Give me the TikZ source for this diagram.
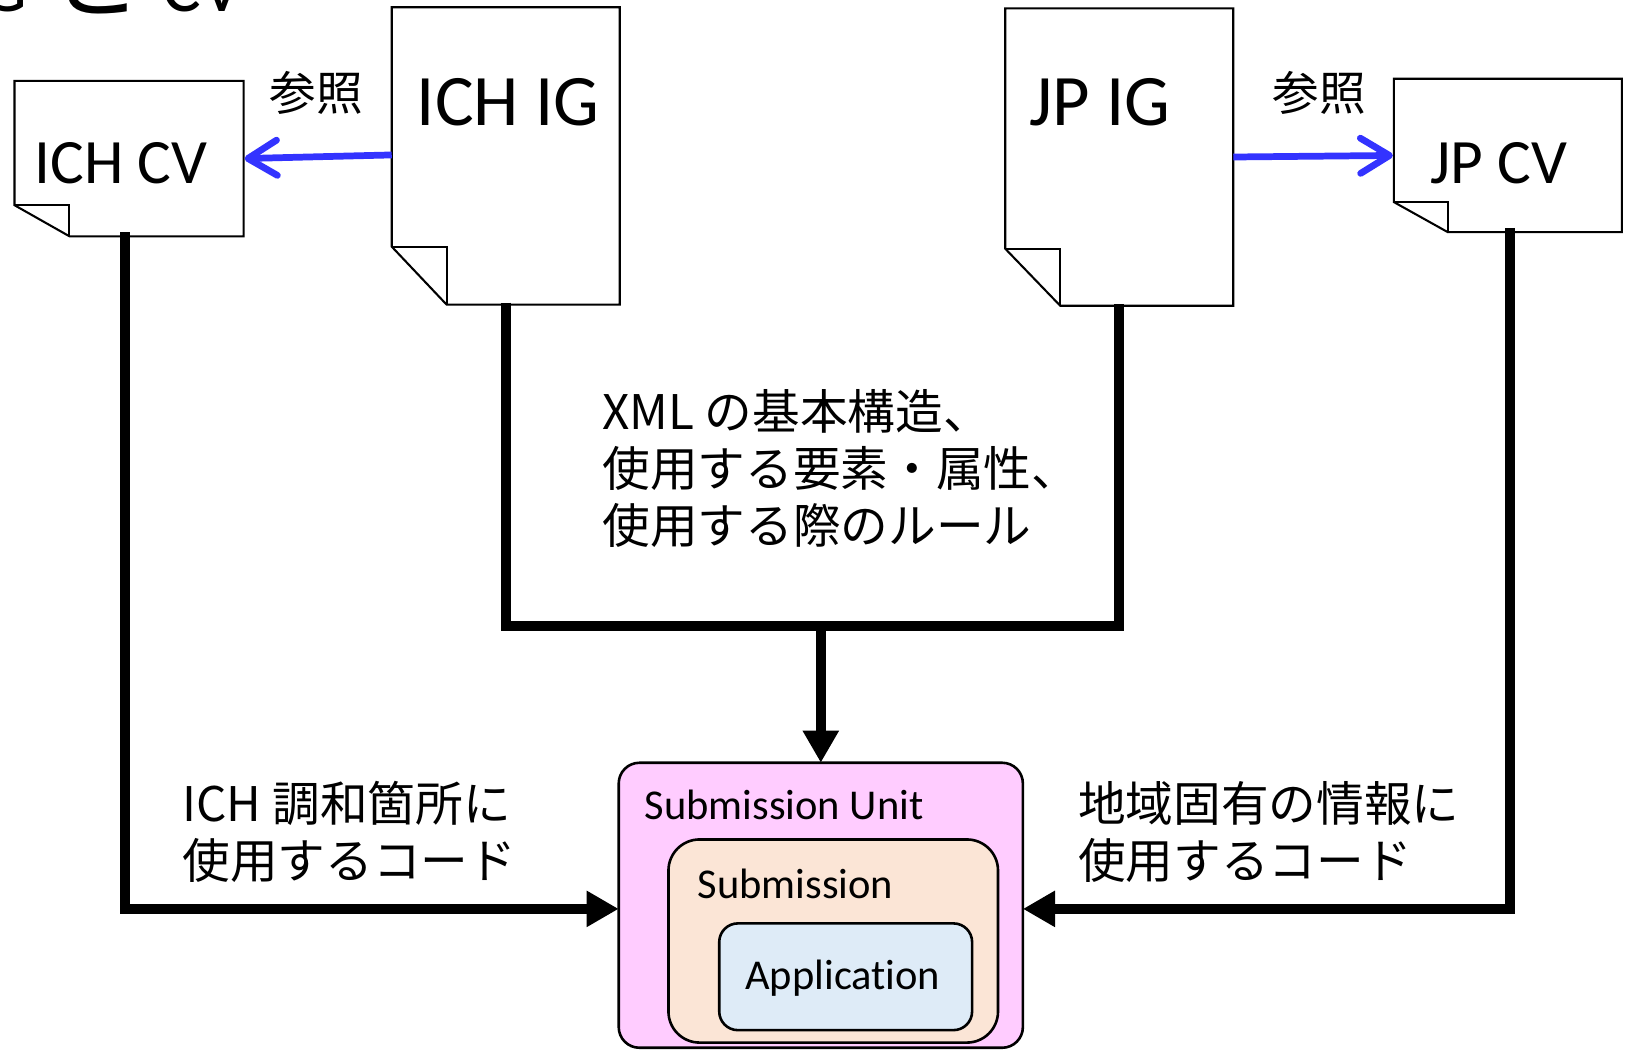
\documentclass[tikz,border=0pt]{standalone}
\usepackage{fontspec}
\setmainfont{Carlito}[Ligatures=NoCommon]
\newfontfamily\jp{Noto Sans CJK JP}
\usetikzlibrary{arrows.meta,calc}
\definecolor{refblue}{RGB}{51,51,255}
\definecolor{supink}{RGB}{255,204,255}
\definecolor{subpeach}{RGB}{251,229,214}
\definecolor{appblue}{RGB}{222,235,247}
\newcommand{\drawdoc}[3]{%
  \filldraw[docline] (#1.north west) -- (#1.north east) -- (#1.south east) -- ([xshift=#2]#1.south west) -- ([yshift=#3]#1.south west) -- cycle;
  \draw[docline,fill=none] ([yshift=#3]#1.south west) -- ([xshift=#2,yshift=#3]#1.south west) -- ([xshift=#2]#1.south west);}
\begin{document}
\begin{tikzpicture}[x=1pt,y=-1pt,
  docframe/.style={draw=none, inner sep=0, outer sep=0},
  docline/.style={draw=black, line width=2pt, fill=white, line join=miter},
  bigtxt/.style={inner sep=0, anchor=base west, font=\fontsize{70}{84}\selectfont},
  cvtxt/.style={inner sep=0, anchor=base west, font=\fontsize{61}{73}\selectfont},
  jptxt/.style={inner sep=0, anchor=base west, font=\jp\fontsize{46}{55}\selectfont},
  reftxt/.style={inner sep=0, font=\jp\fontsize{45}{54}\selectfont},
  boxtxt/.style={inner sep=0, anchor=base west, font=\fontsize{41}{49}\selectfont},
  bar/.style={line width=9.5pt, line join=miter},
  flow/.style={bar, -{Triangle[length=31pt,width=33pt]}},
  refarrow/.style={draw=refblue, line width=6.5pt, -{Straight Barb[length=28pt,width=34pt,round]}},
  unit/.style={draw=black, line width=2.5pt, inner sep=0, outer sep=0}
]
\useasboundingbox (0,0) rectangle (1568,1014.2);

% partial title at the top edge (cut by the picture's edge, as in the reference)
\node[inner sep=0, anchor=base east, font=\fontsize{70}{76}\selectfont] (title) at (234,11)
  {IG\hspace{0.33em}{\jp\fontsize{88}{90}\selectfont と}\hspace{0.28em}CV};

% documents
\node[docframe, minimum width=221pt, minimum height=150pt] (ichcv) at (124.5,153) {};
\node[docframe, minimum width=220pt, minimum height=287pt] (ichig) at (488,150.5) {};
\node[docframe, minimum width=220pt, minimum height=287pt] (jpig) at (1080,151.5) {};
\node[docframe, minimum width=220pt, minimum height=148pt] (jpcv) at (1455,150) {};
\drawdoc{ichcv}{53pt}{30pt}
\drawdoc{ichig}{53pt}{56pt}
\drawdoc{jpig}{53pt}{55pt}
\drawdoc{jpcv}{52pt}{29pt}
\node[cvtxt] (ichcvt) at (33,177) {ICH CV};
\node[bigtxt] (ichigt) at (402,121) {ICH IG};
\node[bigtxt] (jpigt) at (993,121) {JP IG};
\node[cvtxt] (jpcvt) at (1380,177) {JP CV};

% reference arrows
\draw[refarrow] ([yshift=1pt]ichig.west) -- ([xshift=1pt]ichcv.east);
\draw[refarrow] (jpig.east) -- ([xshift=-1pt]jpcv.west);
\node[reftxt] (ref1) at (305,90) {参照};
\node[reftxt] (ref2) at (1273,90) {参照};

% submission boxes
\node[unit, fill=supink, rounded corners=20pt, minimum width=390pt, minimum height=275pt] (su) at (792,873.5) {};
\node[unit, fill=subpeach, rounded corners=30pt, minimum width=318pt, minimum height=196pt] (sub) at (804,908) {};
\node[unit, fill=appblue, rounded corners=18pt, minimum width=244pt, minimum height=103pt] (app) at (816,942.5) {};
\node[boxtxt] (sut) at (622,791) {Submission Unit};
\node[boxtxt] (subt) at (673,867) {Submission};
\node[boxtxt] (appt) at (719,955) {Application};

% flows
\coordinate (junc) at (792,604);
\draw[bar] ([yshift=2pt]ichig.south) -- (ichig.south |- junc) -- (jpig.south |- junc) -- ([yshift=2pt]jpig.south);
\draw[flow] (junc) -- (su.north);
\draw[flow] ([xshift=-3.5pt,yshift=4pt]ichcv.south) |- ([yshift=-3.5pt]su.west);
\draw[flow] ([xshift=2pt,yshift=4pt]jpcv.south) |- ([yshift=-3.5pt]su.east);

% labels
\node[jptxt] (mid1) at (581,414) {XML の基本構造、};
\node[jptxt] (mid2) at (581,469) {使用する要素・属性、};
\node[jptxt] (mid3) at (581,524) {使用する際のルール};
\node[jptxt] (left1) at (176,793) {ICH 調和箇所に};
\node[jptxt] (left2) at (176,848) {使用するコード};
\node[jptxt] (right1) at (1040,793) {地域固有の情報に};
\node[jptxt] (right2) at (1040,848) {使用するコード};
\end{tikzpicture}
\end{document}
